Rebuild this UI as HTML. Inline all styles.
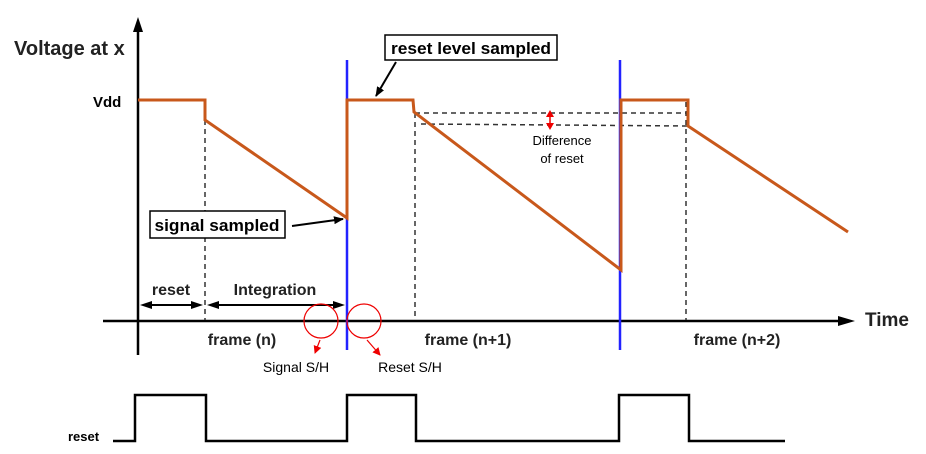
<!DOCTYPE html>
<html><head><style>body{margin:0;background:#fff}svg{display:block}</style></head><body>
<svg width="926" height="454" viewBox="0 0 926 454" xmlns="http://www.w3.org/2000/svg" font-family="Liberation Sans, sans-serif">
<defs>
<marker id="ar" markerWidth="10" markerHeight="8" refX="9" refY="4" orient="auto" markerUnits="userSpaceOnUse"><path d="M0,0 L10,4 L0,8 z" fill="#000"/></marker>
<marker id="arr" markerWidth="8" markerHeight="8" refX="7" refY="4" orient="auto" markerUnits="userSpaceOnUse"><path d="M0,0 L8,4 L0,8 z" fill="#e00"/></marker>
</defs>
<line x1="138" y1="355" x2="138" y2="24" stroke="#000" stroke-width="2.5"/>
<path d="M133,32 L138,17 L143,32 z" fill="#000"/>
<line x1="103" y1="321" x2="845" y2="321" stroke="#000" stroke-width="2.5"/>
<path d="M838,316 L855,321 L838,326 z" fill="#000"/>
<text x="865" y="326" font-size="19" font-weight="bold" fill="#222">Time</text>
<text x="14" y="55" font-size="20" font-weight="bold" fill="#222">Voltage at x</text>
<text x="93" y="107" font-size="15" font-weight="bold">Vdd</text>
<g stroke="#333" stroke-width="1.5" stroke-dasharray="5,4" fill="none">
<line x1="205" y1="102" x2="205" y2="320"/>
<line x1="415" y1="113" x2="415" y2="320"/>
<line x1="686" y1="102" x2="686" y2="320"/>
<line x1="415" y1="113" x2="688" y2="113"/>
<line x1="421" y1="124" x2="688" y2="126"/>
</g>
<line x1="347" y1="60" x2="347" y2="350" stroke="#2222ff" stroke-width="2.5"/>
<line x1="620" y1="60" x2="620" y2="350" stroke="#2222ff" stroke-width="2.5"/>
<polyline points="138,100 205,100 205,120 347,218 347,100 413,100 414,112 621,270 621,100 688,100 688,126 848,232" fill="none" stroke="#c8581b" stroke-width="3"/>
<line x1="550" y1="116" x2="550" y2="125" stroke="#e00" stroke-width="1.5"/>
<path d="M546,117 L550,110 L554,117 z M546,123 L550,130 L554,123 z" fill="#e00"/>
<text x="562" y="145" font-size="13" text-anchor="middle">Difference</text>
<text x="562" y="163" font-size="13" text-anchor="middle">of reset</text>
<rect x="385" y="35" width="172" height="25" fill="#fff" stroke="#000" stroke-width="1.5"/>
<text x="471" y="54" font-size="17" font-weight="bold" text-anchor="middle" textLength="160" lengthAdjust="spacingAndGlyphs">reset level sampled</text>
<line x1="396" y1="62" x2="376" y2="96" stroke="#000" stroke-width="2" marker-end="url(#ar)"/>
<rect x="150" y="211" width="135" height="27" fill="#fff" stroke="#000" stroke-width="1.5"/>
<text x="217" y="231" font-size="17" font-weight="bold" text-anchor="middle" textLength="125" lengthAdjust="spacingAndGlyphs">signal sampled</text>
<line x1="292" y1="226" x2="343" y2="219" stroke="#000" stroke-width="2" marker-end="url(#ar)"/>
<text x="171" y="295" font-size="16" font-weight="bold" text-anchor="middle" fill="#222">reset</text>
<text x="275" y="295" font-size="16" font-weight="bold" text-anchor="middle" fill="#222">Integration</text>
<g stroke="#000" stroke-width="2">
<line x1="150" y1="305" x2="195" y2="305"/>
<line x1="217" y1="305" x2="335" y2="305"/>
</g>
<path d="M140,305 L152,301 L152,309 z M203,305 L191,301 L191,309 z M207,305 L219,301 L219,309 z M345,305 L333,301 L333,309 z" fill="#000"/>
<text x="242" y="345" font-size="16" font-weight="bold" text-anchor="middle" fill="#222">frame (n)</text>
<text x="468" y="345" font-size="16" font-weight="bold" text-anchor="middle" fill="#222">frame (n+1)</text>
<text x="737" y="345" font-size="16" font-weight="bold" text-anchor="middle" fill="#222">frame (n+2)</text>
<circle cx="321" cy="321" r="17" fill="none" stroke="#e00" stroke-width="1.2"/>
<circle cx="364" cy="321" r="17" fill="none" stroke="#e00" stroke-width="1.2"/>
<line x1="320" y1="340" x2="315" y2="353" stroke="#e00" stroke-width="1.2" marker-end="url(#arr)"/>
<line x1="367" y1="340" x2="380" y2="355" stroke="#e00" stroke-width="1.2" marker-end="url(#arr)"/>
<text x="296" y="372" font-size="14" text-anchor="middle">Signal S/H</text>
<text x="410" y="372" font-size="14" text-anchor="middle">Reset S/H</text>
<text x="68" y="441" font-size="13" font-weight="bold">reset</text>
<polyline points="113,441 135,441 135,395 206,395 206,441 347,441 347,395 416,395 416,441 619,441 619,395 689,395 689,441 785,441" fill="none" stroke="#000" stroke-width="2.5"/>
</svg>
</body></html>
